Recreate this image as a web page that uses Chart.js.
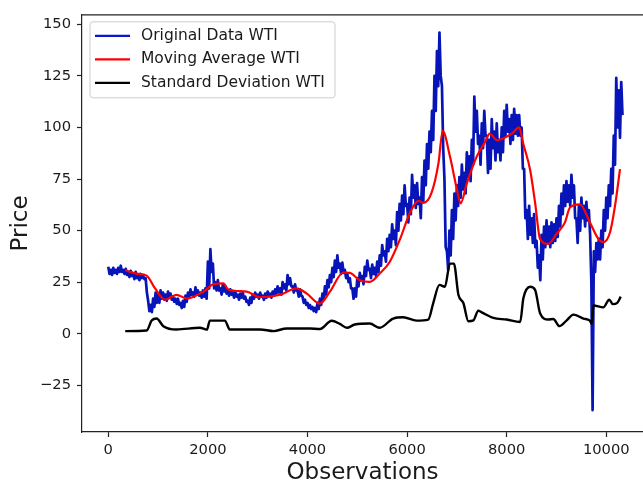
<!DOCTYPE html>
<html>
<head>
<meta charset="utf-8">
<script src="https://cdn.jsdelivr.net/npm/chart.js@4.4.1/dist/chart.umd.min.js"></script>
<style>
  html, body { margin: 0; padding: 0; background: #fff; overflow: hidden; }
  #wrap { width: 643px; height: 486px; }
</style>
</head>
<body>
<div id="wrap"><canvas id="wti" width="643" height="486"></canvas></div>
<script>
// Axis ticks
const xTicks = [0, 2000, 4000, 6000, 8000, 10000];
const yTicks = [-25, 0, 25, 50, 75, 100, 125, 150];

const seriesLabels = ['Original Data WTI', 'Moving Average WTI', 'Standard Deviation WTI'];
const seriesColors = ['#0a16cf', '#ff0000', '#000000'];

// Daily WTI price: high and low of every block of 50 observations
const priceStep = 50;
const priceHigh = [
  32.5, 31, 32, 31, 32, 33, 31, 31.5, 30, 30.5,
  29, 30, 28, 29, 28, 27, 16, 14, 17, 20,
  19, 21, 20, 19, 20.5, 19.5, 18, 17, 17, 15,
  16, 18.5, 20, 21.5, 20, 22.5, 21, 20, 21, 22,
  35, 41, 34, 25, 26, 22, 24, 23, 21, 21.5,
  20, 20.5, 19, 19.5, 20, 18, 16, 17.5, 19, 20,
  19, 20, 18.5, 19.5, 20.5, 19.5, 20.5, 21.5, 23, 22,
  25, 24, 28.5, 27, 23, 24, 21, 21.5, 18, 16.5,
  15, 14, 13, 12.5, 15, 17, 19.5, 23, 26, 28.5,
  32, 35.5, 38, 34, 34.5, 31, 29, 27, 22, 22,
  27, 29.5, 28, 32.5, 35.5, 31.5, 33.5, 32, 35, 38,
  43, 40, 46, 48, 53, 50, 59, 63, 67, 72,
  63, 66, 77, 72, 73, 66, 76, 84, 92, 98,
  108, 125, 137, 146, 120, 75, 40, 50, 60, 68,
  72, 76, 82, 78, 88, 86, 94, 115, 108, 96,
  102, 108, 96, 94, 104, 98, 102, 94, 100, 108,
  111, 104, 106, 109, 106, 106, 100, 80, 60, 62,
  56, 58, 45, 38, 48, 52, 55, 52, 54, 53,
  56, 62, 68, 72, 74, 72, 77, 72, 56, 62,
  66, 62, 64, 60, 25, 40, 44, 46, 50, 60,
  66, 72, 80, 96, 124, 118, 122
];
const priceLow = [
  29, 28.5, 29.5, 29, 30, 30, 29, 28.5, 27.5, 28,
  26.5, 27, 26, 27, 26.5, 20, 11, 10.5, 13, 15,
  15, 17, 16.5, 16, 17.5, 16.5, 15.5, 14.5, 14, 12.5,
  13, 15.5, 17.5, 19, 18, 19.5, 18.5, 17.5, 18, 17,
  22, 30, 22, 21, 21, 19, 20.5, 19.5, 18.5, 19,
  17.5, 18, 16.5, 17.5, 17, 15.5, 14, 15, 17, 18,
  17, 18, 16.5, 17.5, 18.5, 17.5, 18.5, 19.5, 20, 19,
  22, 21, 24, 23, 20, 21, 18, 18.5, 15, 14,
  12.5, 12, 11, 10.5, 12, 14, 16.5, 19, 22.5, 25,
  27.5, 30, 32, 29, 29.5, 27, 25, 22, 17, 18,
  23, 26, 24, 28, 31, 27, 29, 28, 30, 33,
  38, 35, 40, 42, 46, 43, 50, 55, 58, 62,
  54, 58, 66, 61, 63, 56, 64, 72, 80, 88,
  94, 108, 120, 125, 90, 42, 31, 38, 46, 55,
  62, 66, 70, 68, 76, 74, 82, 98, 92, 82,
  90, 96, 78, 80, 90, 84, 88, 84, 88, 96,
  98, 92, 94, 97, 96, 96, 80, 56, 46, 48,
  44, 42, 32, 26, 36, 42, 44, 42, 44, 45,
  47, 52, 58, 62, 64, 62, 66, 56, 44, 50,
  56, 52, 55, 48, -37, 30, 36, 36, 42, 50,
  56, 62, 68, 82, 100, 95, 106
];

// Moving average
const maObs = [
  340, 570, 770, 940, 1140, 1370, 1575, 1910, 2110, 2310, 2410, 2780, 3050, 3450,
  3780, 3980, 4250, 4450, 4720, 4850, 5050, 5250, 5450, 5650, 5860, 6060, 6230,
  6330, 6490, 6630, 6715, 6860, 7000, 7075, 7200, 7400, 7565, 7660, 7800, 7930,
  8100, 8250, 8330, 8470, 8570, 8670, 8835, 9000, 9170, 9270, 9470, 9670, 9840,
  9940, 10075, 10175, 10275
];
const maValues = [
  30.8, 29.2, 28.2, 22, 16.5, 18.9, 17.1, 20.4, 24, 24.4, 21.5, 20.4, 17.7, 18.9,
  22, 19.6, 14.6, 20.4, 29.7, 29.5, 26, 25.2, 29.2, 34.8, 46, 58.8, 64.4,
  63.5, 68.3, 82.7, 98.4, 86, 70, 63.2, 73, 86, 93, 97, 93.9, 94.7,
  97, 100, 92.3, 79.5, 63.6, 46, 43.6, 48.4, 54, 61.2, 62.7, 54, 46,
  44.4, 49.2, 62, 79.8
];

// Rolling standard deviation
const sdObs = [
  340, 770, 870, 970, 1105, 1370, 1840, 1980, 2040, 2340, 2440, 3050, 3320, 3580,
  4050, 4250, 4485, 4650, 4790, 4950, 5250, 5450, 5720, 5920, 6190, 6425, 6525,
  6650, 6760, 6860, 6940, 7030, 7130, 7230, 7330, 7430, 7530, 7730, 8000, 8270,
  8335, 8470, 8570, 8670, 8835, 8935, 9060, 9200, 9340, 9540, 9670, 9710, 9740,
  9940, 10060, 10130, 10220, 10290
];
const sdValues = [
  1.3, 1.6, 6.4, 7.4, 3.7, 2.1, 2.9, 2.0, 6.4, 6.4, 2.1, 2.1, 1.3, 2.6,
  2.6, 2.3, 6.3, 4.8, 2.9, 4.5, 5.0, 2.9, 7.4, 8, 6.4, 6.9, 14.9,
  23.7, 22.8, 34, 34, 18.9, 14.9, 6.1, 6.5, 11.2, 10, 7.7, 6.9, 5.7,
  17.2, 22.8, 21.3, 10, 6.9, 7.2, 3.7, 6.4, 9.3, 7.4, 6.4, 4.8, 13.7,
  12.8, 16.5, 14.4, 15, 18
];

const pairUp = (xs, ys) => ys.map((y, i) => ({ x: xs[i], y: y }));

// zigzag high -> low inside each block so the daily noise reads as a band
const pricePoints = [];
priceHigh.forEach((hi, i) => {
  pricePoints.push({ x: i * priceStep, y: hi });
  pricePoints.push({ x: i * priceStep + priceStep / 2, y: priceLow[i] });
});

const textColor = '#1a1a1a';
const spineColor = '#222222';
const fontFamily = '"DejaVu Sans", sans-serif';
const plainNumber = (v) => (v < 0 ? '\u2212' + Math.abs(v) : String(v));

// Legend box inside the plot and the top spine
const boxLegend = {
  id: 'boxLegend',
  afterDraw(chart) {
    const ctx = chart.ctx;
    const area = chart.chartArea;
    ctx.save();
    ctx.strokeStyle = spineColor;
    ctx.lineWidth = 1.2;
    ctx.beginPath();
    ctx.moveTo(area.left, area.top);
    ctx.lineTo(area.right, area.top);
    ctx.stroke();

    const bx = area.left + 8, by = area.top + 7;
    ctx.beginPath();
    ctx.roundRect(bx, by, 245, 76, 3);
    ctx.fillStyle = 'rgba(255,255,255,0.8)';
    ctx.fill();
    ctx.strokeStyle = '#cccccc';
    ctx.lineWidth = 1;
    ctx.stroke();

    ctx.font = '15.5px ' + fontFamily;
    ctx.textBaseline = 'middle';
    ctx.textAlign = 'left';
    seriesLabels.forEach((label, i) => {
      const rowY = by + 14 + i * 23.5;
      ctx.strokeStyle = seriesColors[i];
      ctx.lineWidth = 2.2;
      ctx.beginPath();
      ctx.moveTo(bx + 5, rowY);
      ctx.lineTo(bx + 40, rowY);
      ctx.stroke();
      ctx.fillStyle = textColor;
      ctx.fillText(label, bx + 51, rowY);
    });
    ctx.restore();
  }
};

new Chart(document.getElementById('wti'), {
  type: 'line',
  data: {
    datasets: [
      {
        label: seriesLabels[0],
        data: pricePoints,
        borderColor: '#0614b8',
        borderWidth: 2.7,
        borderJoinStyle: 'round',
        pointRadius: 0,
        tension: 0,
        order: 3
      },
      {
        label: seriesLabels[1],
        data: pairUp(maObs, maValues),
        borderColor: seriesColors[1],
        borderWidth: 2.2,
        pointRadius: 0,
        cubicInterpolationMode: 'monotone',
        order: 2
      },
      {
        label: seriesLabels[2],
        data: pairUp(sdObs, sdValues),
        borderColor: seriesColors[2],
        borderWidth: 2.4,
        pointRadius: 0,
        cubicInterpolationMode: 'monotone',
        order: 1
      }
    ]
  },
  options: {
    responsive: false,
    animation: false,
    devicePixelRatio: 1,
    layout: { padding: { top: 10, right: 0, bottom: 0, left: 0 } },
    plugins: {
      legend: { display: false },
      tooltip: { enabled: false }
    },
    scales: {
      x: {
        type: 'linear',
        min: -528,
        max: 10737,
        afterFit: (scale) => { scale.height = 54; },
        afterBuildTicks: (scale) => { scale.ticks = xTicks.map(v => ({ value: v })); },
        grid: {
          drawOnChartArea: false,
          drawTicks: true,
          tickLength: 5,
          tickColor: spineColor,
          tickWidth: 1.2
        },
        border: { display: true, color: spineColor, width: 1.2 },
        ticks: {
          color: textColor,
          padding: 4,
          maxRotation: 0,
          callback: plainNumber,
          font: { family: fontFamily, size: 14.7 }
        },
        title: {
          display: true,
          text: 'Observations',
          color: textColor,
          padding: { top: 0, bottom: 1.2 },
          font: { family: fontFamily, size: 23, lineHeight: 1 }
        }
      },
      y: {
        type: 'linear',
        min: -47.6,
        max: 154.6,
        afterFit: (scale) => { scale.width = 82; },
        afterBuildTicks: (scale) => { scale.ticks = yTicks.map(v => ({ value: v })); },
        grid: {
          drawOnChartArea: false,
          drawTicks: true,
          tickLength: 5,
          tickColor: spineColor,
          tickWidth: 1.2
        },
        border: { display: true, color: spineColor, width: 1.2 },
        ticks: {
          color: textColor,
          padding: 6,
          callback: plainNumber,
          font: { family: fontFamily, size: 14.7 }
        },
        title: {
          display: true,
          text: 'Price',
          color: textColor,
          padding: { top: 7, bottom: 0 },
          font: { family: fontFamily, size: 23 }
        }
      }
    }
  },
  plugins: [boxLegend]
});
</script>
</body>
</html>
